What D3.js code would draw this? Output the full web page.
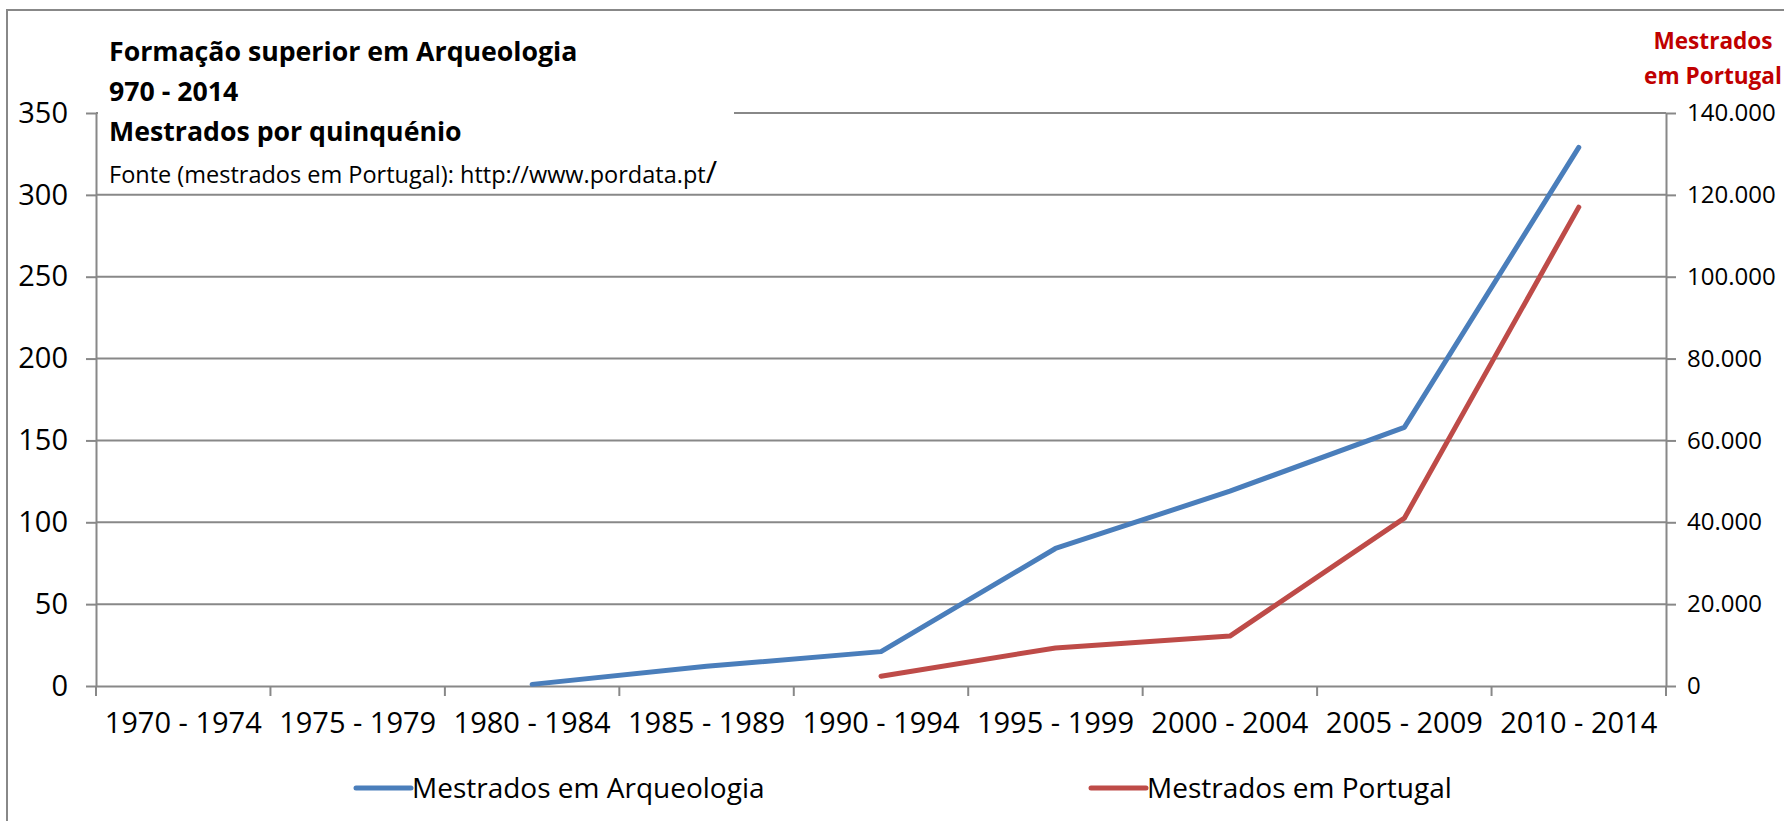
<!DOCTYPE html>
<html>
<head>
<meta charset="utf-8">
<script src="https://cdn.jsdelivr.net/npm/d3@7"></script>
<style>
  body { margin: 0; background: #fff; }
  svg { display: block; font-family: 'Open Sans', sans-serif; }
  .axis path, .axis line { stroke: #888; stroke-width: 2; }
  .axis text { fill: #000; font-size: 29px; font-family: 'Open Sans', sans-serif; }
  .axis-y2 text { font-size: 24px; }
  .grid line { stroke: #888; stroke-width: 2; }
</style>
</head>
<body>
<svg width="1784" height="821"></svg>
<script>
// The chart data:
var periods = ['1970 - 1974', '1975 - 1979', '1980 - 1984', '1985 - 1989', '1990 - 1994',
  '1995 - 1999', '2000 - 2004', '2005 - 2009', '2010 - 2014'];
var arqueologia = [null, null, 1, 12, 21, 84, 119, 158, 329];
var portugal = [null, null, null, null, 2400, 9300, 12200, 41000, 117000];
var leftTicks = [0, 50, 100, 150, 200, 250, 300, 350];
var rightTicks = [0, 20000, 40000, 60000, 80000, 100000, 120000, 140000];

// Select the SVG element:
var svg = d3.select('svg');

// Define the margins:
var margin = { top: 113, right: 118, bottom: 135, left: 96 };
var width = 1784 - margin.left - margin.right;
var height = 821 - margin.top - margin.bottom;

// Outer border of the chart area:
svg.append('rect')
  .attr('x', 7).attr('y', 10)
  .attr('width', 1800).attr('height', 830)
  .attr('fill', 'none')
  .attr('stroke', '#888')
  .attr('stroke-width', 2);

// Define the scales:
var x = d3.scaleBand().domain(periods).range([0, width]);
var yLeft = d3.scaleLinear().domain([0, 350]).range([height, 0]);
var yRight = d3.scaleLinear().domain([0, 140000]).range([height, 0]);

var g = svg.append('g')
  .attr('transform', 'translate(' + margin.left + ',' + margin.top + ')');

// Horizontal gridlines:
g.append('g')
  .attr('class', 'grid')
  .selectAll('line')
  .data(leftTicks.slice(1))
  .enter()
  .append('line')
  .attr('x1', 0)
  .attr('x2', width)
  .attr('y1', function (d) { return yLeft(d); })
  .attr('y2', function (d) { return yLeft(d); });

// Number format for the right axis (dot as thousands separator):
var ptFormat = d3.formatLocale({ decimal: ',', thousands: '.', grouping: [3], currency: ['', ''] }).format(',.0f');

// Axes:
var xAxis = g.append('g')
  .attr('class', 'axis axis-x')
  .attr('transform', 'translate(0,' + height + ')')
  .call(d3.axisBottom(x).tickSize(0).tickPadding(26));

// Ticks on the band edges:
xAxis.selectAll('.edge')
  .data(d3.range(periods.length + 1))
  .enter()
  .append('line')
  .attr('class', 'edge')
  .attr('x1', function (i) { return i * x.step(); })
  .attr('x2', function (i) { return i * x.step(); })
  .attr('y1', 0)
  .attr('y2', 10);

g.append('g')
  .attr('class', 'axis axis-y')
  .call(d3.axisLeft(yLeft).tickValues(leftTicks).tickSize(10).tickSizeOuter(0).tickPadding(18));

g.append('g')
  .attr('class', 'axis axis-y2')
  .attr('transform', 'translate(' + width + ',0)')
  .call(d3.axisRight(yRight).tickValues(rightTicks).tickSize(10).tickSizeOuter(0).tickPadding(11)
    .tickFormat(function (d) { return d === 0 ? '0' : ptFormat(d); }));

g.selectAll('.axis .domain').attr('stroke', '#888').attr('stroke-width', 2);

// Line generators:
function cx(d, i) { return x(periods[i]) + x.bandwidth() / 2; }

var lineLeft = d3.line()
  .defined(function (d) { return d !== null; })
  .x(cx)
  .y(function (d) { return yLeft(d); });

var lineRight = d3.line()
  .defined(function (d) { return d !== null; })
  .x(cx)
  .y(function (d) { return yRight(d); });

g.append('path')
  .datum(arqueologia)
  .attr('d', lineLeft)
  .attr('fill', 'none')
  .attr('stroke', '#4a7ebb')
  .attr('stroke-width', 5)
  .attr('stroke-linecap', 'round')
  .attr('stroke-linejoin', 'round');

g.append('path')
  .datum(portugal)
  .attr('d', lineRight)
  .attr('fill', 'none')
  .attr('stroke', '#be4b48')
  .attr('stroke-width', 5)
  .attr('stroke-linecap', 'round')
  .attr('stroke-linejoin', 'round');

// Title box (covers the top gridline):
svg.append('rect')
  .attr('x', 98).attr('y', 30)
  .attr('width', 636).attr('height', 158)
  .attr('fill', '#fff');

var title = svg.append('g').attr('transform', 'translate(109,0)');
var titleLines = ['Formação superior em Arqueologia', '970 - 2014', 'Mestrados por quinquénio'];

title.selectAll('.title-line')
  .data(titleLines)
  .enter()
  .append('text')
  .attr('class', 'title-line')
  .attr('y', function (d, i) { return 61 + i * 40; })
  .attr('font-size', 26.7)
  .attr('font-weight', 'bold')
  .text(function (d) { return d; });

var fonte = title.append('text')
  .attr('y', 183)
  .attr('font-size', 23.5);
fonte.append('tspan').text('Fonte (mestrados em Portugal): http://www.pordata.pt');
fonte.append('tspan').attr('font-size', 31).text('/');

// Right axis title:
svg.append('text')
  .attr('x', 1713)
  .attr('text-anchor', 'middle')
  .attr('fill', '#c00000')
  .attr('font-weight', 'bold')
  .attr('font-size', 22.6)
  .selectAll('tspan')
  .data(['Mestrados', 'em Portugal'])
  .enter()
  .append('tspan')
  .attr('x', 1713)
  .attr('y', function (d, i) { return 49 + i * 35; })
  .text(function (d) { return d; });

// Legend:
var legendItems = [
  { name: 'Mestrados em Arqueologia', color: '#4a7ebb', x: 356 },
  { name: 'Mestrados em Portugal', color: '#be4b48', x: 1091 }
];

var legend = svg.selectAll('.legend')
  .data(legendItems)
  .enter()
  .append('g')
  .attr('class', 'legend')
  .attr('transform', function (d) { return 'translate(' + d.x + ',788)'; });

legend.append('line')
  .attr('x1', 0).attr('x2', 55)
  .attr('stroke', function (d) { return d.color; })
  .attr('stroke-width', 5)
  .attr('stroke-linecap', 'round');

legend.append('text')
  .attr('x', 56)
  .attr('dy', '0.35em')
  .attr('font-size', 28)
  .text(function (d) { return d.name; });
</script>
</body>
</html>
